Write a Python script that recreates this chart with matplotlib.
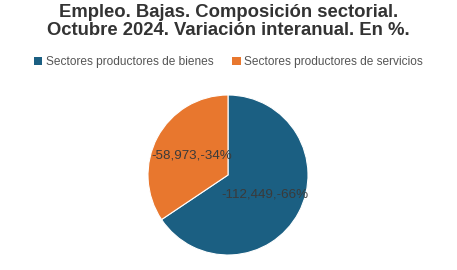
import matplotlib.pyplot as plt
from matplotlib.patches import Patch

# datos: bajas por sector, variación interanual
sectores = ['Sectores productores de bienes', 'Sectores productores de servicios']
bajas = [-112449, -58973]
colores = ['#1b5f82', '#e8772e']

titulo = 'Empleo. Bajas. Composición sectorial.\nOctubre 2024. Variación interanual. En %.'

plt.rcParams['font.family'] = ['Liberation Sans', 'DejaVu Sans']

def etiqueta(pct):
    # el pie usa valores absolutos, la etiqueta lleva el signo original
    total = sum(abs(v) for v in bajas)
    for v in bajas:
        if abs(abs(v) / total * 100 - pct) < 0.01:
            return '{:,},{}%'.format(v, -round(pct))
    return ''

fig = plt.figure(figsize=(4.57, 2.70), dpi=100)
fig.patch.set_facecolor('white')

fig.text(0.5, 0.985, titulo, ha='center', va='top', fontsize=13.3,
         fontweight='bold', color='#333333', linespacing=1.1)

ax = fig.add_axes([(228 - 80) / 457, (270 - 255) / 270, 160 / 457, 160 / 270])
wedges, textos, autotextos = ax.pie([abs(v) for v in bajas], colors=colores,
                                    startangle=90, counterclock=False,
                                    autopct=etiqueta, pctdistance=0.52,
                                    wedgeprops={'edgecolor': 'white', 'linewidth': 0.8})
for t in autotextos:
    t.set_fontsize(9.6)
    t.set_color('#3a3a3a')
ax.set_xlim(-1, 1)
ax.set_ylim(-1, 1)
ax.set_aspect('equal')

handles = [Patch(facecolor=c, edgecolor='none') for c in colores]
fig.legend(handles, sectores, loc='center', bbox_to_anchor=(0.5, 1 - 62 / 270),
           ncol=2, frameon=False, fontsize=8.6, handlelength=0.7, handleheight=0.7,
           handletextpad=0.3, columnspacing=1.6, labelcolor='#555555')

fig.savefig('out.png', dpi=100)
